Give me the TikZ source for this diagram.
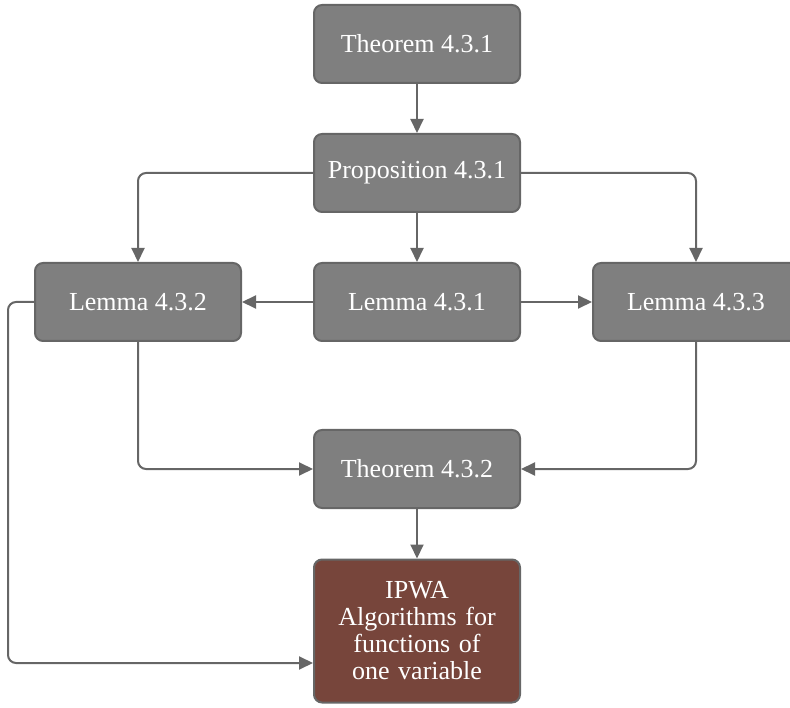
\documentclass[tikz,border=0pt]{standalone}
\usepackage{fontspec}
\setmainfont{Liberation Serif}
\usetikzlibrary{arrows.meta}
\definecolor{boxgray}{HTML}{7F7F7F}
\definecolor{linegray}{HTML}{666666}
\definecolor{boxbrown}{HTML}{77453B}
\tikzset{%
    blk/.style={draw=linegray,line width=2pt,fill=boxgray,rounded corners=8pt,
        minimum width=206pt,minimum height=78pt,text=white,
        font=\fontsize{26}{27}\selectfont,align=center}
}
\begin{document}
\begin{tikzpicture}[
                x=1pt,y=-1pt,
                lnk/.style={draw=linegray,line width=2pt,rounded corners=8pt,
                    -{Triangle[length=14pt,width=13pt]}}
            ]
            \useasboundingbox (0,0) rectangle (790,708);
            \node[blk] (t1) at (417,44){Theorem 4.3.1};
            \node[blk] (p1) at (417,173){Proposition 4.3.1};
            \node[blk] (l1) at (417,302){Lemma 4.3.1};
            \node[blk] (l2) at (138,302){Lemma 4.3.2};
            \node[blk] (l3) at (696,302){Lemma 4.3.3};
            \node[blk] (t2) at (417,469){Theorem 4.3.2};
            \node[blk,fill=boxbrown,minimum height=143pt,text width=192pt] (ipwa) at (417,631)
                {IPWA\\Algorithms for\\functions of\\one variable};

            \draw[lnk] (t1) -- (p1);
            \draw[lnk] (p1) -- (l1);
            \draw[lnk] (p1.west) -| (l2.north);
            \draw[lnk] (p1.east) -| (l3.north);
            \draw[lnk] (l1) -- (l2);
            \draw[lnk] (l1) -- (l3);
            \draw[lnk] (l2.south) |- (t2.west);
            \draw[lnk] (l3.south) |- (t2.east);
            \draw[lnk] (t2) -- (ipwa);
            \draw[lnk] (l2.west) -- ++(-26,0) |- ([yshift=-32pt]ipwa.west);
        \end{tikzpicture}
\end{document}
